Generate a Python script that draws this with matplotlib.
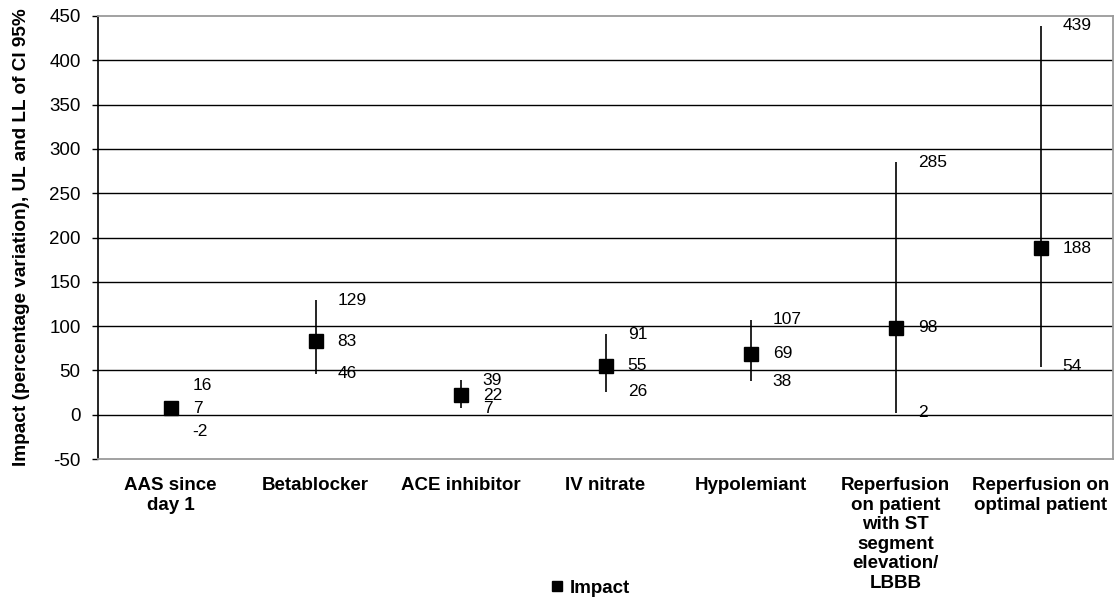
import matplotlib.pyplot as plt
from matplotlib.lines import Line2D

plt.rcParams['font.family'] = ['Liberation Sans', 'DejaVu Sans']
plt.rcParams['axes.unicode_minus'] = False

# donnees
categories = ["AAS since\nday 1", "Betablocker", "ACE inhibitor", "IV nitrate",
              "Hypolemiant", "Reperfusion\non patient\nwith ST\nsegment\nelevation/\nLBBB",
              "Reperfusion on\noptimal patient"]
impact = [7, 83, 22, 55, 69, 98, 188]
upper = [16, 129, 39, 91, 107, 285, 439]
lower = [-2, 46, 7, 26, 38, 2, 54]

fig = plt.figure(figsize=(11.2, 6.01), dpi=100)
ax = fig.add_axes([98 / 1120, 1 - 459 / 601, (1113 - 98) / 1120, (459 - 16) / 601])

x = list(range(len(categories)))

# lignes de grille
for y in range(0, 450, 50):
    ax.axhline(y, color='black', lw=1.0, zorder=1)

# intervalles de confiance
ax.vlines(x, lower, upper, color='black', lw=1.2, zorder=2)
ax.plot(x, impact, ls='none', marker='s', ms=10, color='black', zorder=3)

# etiquettes des valeurs (AAS decalees pour rester lisibles)
for i in x:
    dy_up, dy_low = (0, 0)
    if i == 0:
        dy_up, dy_low = (11, -11)
    for val, dy in ((upper[i], dy_up), (impact[i], 0), (lower[i], dy_low)):
        ax.annotate(str(val), (i, val), xytext=(16, dy), textcoords='offset points',
                    ha='left', va='center', fontsize=12.5, zorder=4)

ax.set_xlim(-0.5, len(categories) - 0.5)
ax.set_ylim(-50, 450)
ax.set_yticks(range(-50, 451, 50))
ax.set_xticks(x)
ax.set_xticklabels(categories, fontweight='bold', fontsize=13.5, linespacing=1.2)
ax.tick_params(axis='x', length=0, pad=13)
ax.tick_params(axis='y', direction='out', length=4.5, width=1.0, pad=8, labelsize=13.5)

for side in ('top', 'right', 'bottom'):
    ax.spines[side].set_color('#9a9a9a')
    ax.spines[side].set_linewidth(1.3)
ax.spines['left'].set_color('black')
ax.spines['left'].set_linewidth(1.2)

ax.set_ylabel("Impact (percentage variation), UL and LL of CI 95%",
              fontweight='bold', fontsize=13.7, labelpad=14)

handle = Line2D([], [], ls='none', marker='s', ms=7.5, color='black')
fig.legend([handle], ["Impact"], loc='center', bbox_to_anchor=(588 / 1120, 1 - 588 / 601),
           frameon=False, handletextpad=0.1, handlelength=1.2,
           prop={'weight': 'bold', 'size': 13.5})

fig.savefig("out.png", dpi=100)
